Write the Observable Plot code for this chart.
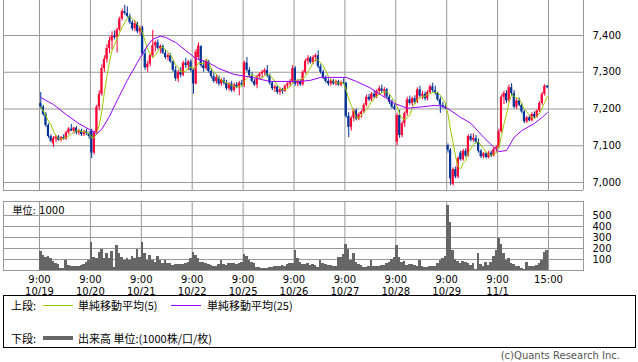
<!DOCTYPE html>
<html><head><meta charset="utf-8">
<script src="https://cdn.jsdelivr.net/npm/d3@7"></script>
<script src="https://cdn.jsdelivr.net/npm/@observablehq/plot@0.6"></script>
<style>
body{margin:0;background:#fff;}
#wrap{position:relative;width:638px;height:362px;overflow:hidden;font-family:"DejaVu Sans","Noto Sans CJK JP",sans-serif;}
#price{position:absolute;left:0;top:0;}
#vol{position:absolute;left:0;top:196px;}
#legend{position:absolute;left:3px;top:295px;width:633px;height:53px;border:1px solid #000;box-sizing:border-box;}
.lt{position:absolute;font-family:"Noto Sans CJK JP",sans-serif;font-size:11px;line-height:14px;color:#000;white-space:nowrap;}
.ll{position:absolute;height:0;}
#copy{position:absolute;right:18px;top:349px;font-size:10px;line-height:14px;color:#555;white-space:nowrap;}
</style></head>
<body>
<div id="wrap">
  <div id="price"></div>
  <div id="vol"></div>
  <div id="legend">
    <span class="lt" style="left:7px;top:2px;">上段:</span>
    <span class="ll" style="left:39px;top:9px;width:30px;border-top:1px solid #99cc00;"></span>
    <span class="lt" style="left:74px;top:2px;">単純移動平均(5)</span>
    <span class="ll" style="left:167px;top:9px;width:30px;border-top:1px solid #9900ff;"></span>
    <span class="lt" style="left:203px;top:2px;">単純移動平均(25)</span>
    <span class="lt" style="left:7px;top:35px;">下段:</span>
    <span class="ll" style="left:39px;top:40px;width:30px;border-top:4px solid #666;"></span>
    <span class="lt" style="left:74px;top:35px;">出来高 単位:(1000株/口/枚)</span>
  </div>
  <div id="copy">(c)Quants Research Inc.</div>
</div>
<script>
// ---- data (one bar per index, 20 bars per trading day) ----
const open = [
7215,7205,7185,7155,7125,7105,7118,7124,7115,7122,7118,7135,7145,7140,7148,7135,7140,7130,7138,7132,
7140,7080,7135,7205,7240,7310,7335,7365,7385,7398,7394,7415,7445,7465,7460,7452,7435,7418,7432,7410,
7420,7350,7312,7322,7345,7372,7380,7365,7370,7352,7340,7345,7328,7305,7282,7300,7292,7325,7318,7328,
7305,7268,7340,7370,7318,7310,7328,7302,7288,7275,7285,7268,7278,7270,7255,7268,7250,7265,7258,7270,
7265,7325,7305,7290,7275,7265,7288,7295,7300,7305,7290,7270,7255,7260,7245,7252,7248,7262,7268,7275,
7310,7268,7275,7266,7300,7330,7338,7326,7340,7345,7315,7300,7285,7275,7268,7276,7268,7274,7265,7272,
7270,7180,7150,7175,7195,7172,7185,7192,7210,7232,7225,7240,7232,7248,7255,7248,7252,7232,7218,7205,
7110,7182,7128,7160,7188,7225,7215,7228,7218,7252,7235,7240,7228,7245,7260,7250,7242,7225,7210,7206,
7100,7088,6995,7035,7015,7080,7062,7085,7072,7125,7115,7120,7110,7085,7070,7078,7068,7080,7072,7090,
7095,7138,7232,7242,7222,7258,7242,7205,7222,7210,7192,7165,7176,7168,7185,7178,7195,7215,7240,7262];
const high = [
7245,7210,7190,7160,7130,7125,7128,7128,7125,7130,7140,7150,7158,7150,7152,7145,7145,7142,7145,7138,
7145,7140,7210,7250,7320,7345,7375,7395,7410,7412,7420,7450,7472,7482,7478,7458,7440,7440,7436,7425,
7425,7362,7330,7350,7414,7385,7388,7375,7374,7360,7352,7350,7332,7315,7305,7312,7330,7338,7332,7334,
7310,7362,7380,7372,7330,7335,7332,7310,7298,7292,7290,7282,7285,7278,7272,7275,7270,7272,7275,7278,
7330,7340,7312,7300,7280,7292,7298,7305,7310,7318,7295,7275,7265,7262,7258,7256,7265,7272,7280,7318,
7315,7280,7280,7305,7335,7345,7342,7345,7350,7358,7322,7305,7290,7282,7280,7280,7278,7278,7276,7282,
7272,7190,7180,7200,7200,7190,7195,7215,7238,7240,7245,7248,7252,7262,7265,7258,7256,7238,7225,7212,
7188,7196,7165,7192,7232,7235,7232,7236,7258,7262,7248,7246,7250,7265,7270,7262,7246,7232,7218,7212,
7105,7092,7040,7042,7070,7085,7090,7092,7130,7132,7132,7128,7118,7090,7082,7082,7085,7086,7095,7100,
7145,7238,7248,7250,7265,7269,7250,7228,7230,7215,7196,7180,7182,7190,7192,7198,7220,7245,7266,7264];
const low = [
7200,7180,7150,7120,7108,7095,7108,7112,7110,7115,7115,7130,7138,7132,7130,7128,7125,7125,7128,7118,
7065,7075,7130,7195,7235,7300,7325,7350,7360,7388,7352,7410,7440,7455,7448,7430,7412,7410,7405,7400,
7345,7305,7300,7315,7338,7355,7360,7350,7348,7335,7330,7325,7300,7275,7272,7285,7288,7310,7305,7300,
7240,7265,7335,7312,7300,7305,7298,7282,7270,7268,7262,7262,7265,7250,7248,7245,7245,7255,7236,7260,
7258,7300,7285,7270,7262,7255,7280,7282,7290,7285,7265,7250,7245,7240,7237,7240,7245,7255,7260,7268,
7262,7260,7262,7262,7295,7320,7322,7320,7328,7310,7295,7280,7270,7262,7262,7265,7262,7262,7260,7266,
7175,7122,7140,7165,7168,7168,7175,7188,7205,7220,7220,7228,7228,7240,7242,7232,7228,7212,7200,7196,
7100,7120,7122,7150,7180,7210,7208,7212,7215,7230,7225,7222,7222,7240,7245,7238,7220,7188,7200,7198,
7080,6992,6990,7010,7010,7058,7058,7068,7070,7110,7110,7105,7080,7065,7065,7064,7064,7068,7070,7080,
7092,7135,7212,7215,7218,7235,7200,7198,7206,7188,7160,7160,7165,7165,7172,7175,7190,7210,7235,7255];
const close = [
7205,7185,7155,7125,7112,7120,7124,7115,7122,7118,7135,7145,7140,7148,7135,7140,7130,7138,7132,7125,
7080,7135,7205,7240,7310,7335,7365,7385,7398,7394,7415,7445,7465,7460,7452,7435,7418,7432,7410,7420,
7350,7312,7322,7345,7372,7380,7365,7370,7352,7340,7345,7328,7305,7282,7300,7292,7325,7318,7328,7305,
7268,7355,7372,7318,7310,7328,7302,7288,7275,7285,7268,7278,7270,7255,7268,7250,7265,7258,7270,7265,
7325,7305,7290,7275,7265,7288,7295,7300,7305,7290,7270,7255,7260,7245,7252,7248,7262,7268,7275,7310,
7268,7275,7266,7300,7330,7338,7326,7340,7345,7315,7300,7285,7275,7268,7276,7268,7274,7265,7272,7270,
7180,7150,7175,7195,7172,7185,7192,7210,7232,7225,7240,7232,7248,7255,7248,7252,7232,7218,7205,7200,
7182,7128,7160,7188,7225,7215,7228,7218,7252,7235,7240,7228,7245,7260,7250,7242,7225,7210,7206,7202,
7088,7010,7035,7015,7065,7062,7085,7072,7125,7115,7120,7110,7085,7070,7078,7068,7080,7072,7090,7095,
7138,7232,7242,7222,7258,7242,7205,7222,7210,7192,7165,7176,7168,7185,7178,7195,7215,7240,7262,7258];
const volume = [
175,135,115,125,110,85,62,50,22,14,90,48,35,33,34,34,48,55,70,95,
258,115,105,165,195,110,150,105,170,25,225,150,120,95,110,90,130,105,195,120,
258,150,90,135,95,76,125,90,68,90,63,60,48,50,55,55,55,60,76,105,
160,135,105,76,70,63,50,48,40,40,55,90,50,48,60,63,60,50,65,76,
143,125,90,76,60,30,28,22,20,22,25,30,32,35,40,45,40,55,62,68,
180,105,76,55,50,60,45,55,48,30,90,60,50,45,42,40,38,115,120,145,
240,195,90,150,75,50,45,30,30,38,90,38,40,38,42,45,60,76,100,120,
225,120,76,82,47,50,53,45,40,90,40,30,28,35,38,40,62,90,110,125,
590,435,185,103,79,60,80,73,60,45,66,8,155,55,33,72,48,70,130,180,
290,240,155,95,110,65,50,40,34,19,12,72,34,40,34,48,62,95,160,185];
// 25-bar moving average (bar index, value)
const ma25Bar = [0,5,10,15,20,22,24,27,30,34,38,42,44,47,49,53,57,61,65,68,70,76,83,90,96,102,106,110,116,120,124,129,134,139,144,150,155,158,160,165,169,174,178,180,183,186,189,194,197,199];
const ma25Value = [7231,7212,7185,7160,7141,7133,7145,7180,7223,7278,7327,7373,7390,7398,7395,7381,7359,7337,7329,7318,7310,7294,7286,7275,7275,7275,7278,7286,7286,7286,7275,7259,7237,7215,7202,7206,7210,7207,7201,7177,7161,7123,7096,7084,7087,7123,7141,7161,7177,7190];
const tickBars = [0,20,40,60,80,100,120,140,160,180,200];
const timeLabels = ["9:00","9:00","9:00","9:00","9:00","9:00","9:00","9:00","9:00","9:00","15:00"];
const dateLabels = ["10/19","10/20","10/21","10/22","10/25","10/26","10/27","10/28","10/29","11/1",""];
const priceTicks = [7000,7100,7200,7300,7400];
const volumeTicks = [100,200,300,400,500];

// ---- build ----
const bars = open.map((o, i) => ({i, o, h: high[i], l: low[i], c: close[i], v: volume[i]}));
const upBars = bars.filter(d => d.c >= d.o);
const dnBars = bars.filter(d => d.c < d.o);
const ma25 = ma25Bar.map((b, k) => ({i: b, v: ma25Value[k]}));
const UP = "#ff0033", DN = "#003399", GRID = "#999";
const xDomain = [-14.145, 213.75];
const font = {fontFamily: '"DejaVu Sans","Noto Sans CJK JP",sans-serif', fontSize: "10px", color: "#000", background: "transparent"};

const price = Plot.plot({
  width: 638, height: 191,
  marginTop: 0, marginBottom: 1, marginLeft: 3, marginRight: 55,
  x: {domain: xDomain, axis: null},
  y: {domain: [6978.2, 7495.2], label: null},
  style: font,
  marks: [
    Plot.gridY(priceTicks, {stroke: GRID, strokeOpacity: 1}),
    Plot.ruleX(tickBars, {stroke: GRID, strokeOpacity: 1}),
    Plot.ruleX(xDomain, {stroke: GRID, strokeOpacity: 1}),
    Plot.ruleY([6978.2], {stroke: GRID, strokeOpacity: 1}),
    Plot.axisY(priceTicks, {anchor: "right", label: null, tickSize: 0, tickPadding: 9, tickFormat: d3.format(","), fontSize: 10}),
    Plot.ruleX(upBars, {x: d => d.i + 0.5, y1: "l", y2: "h", stroke: UP}),
    Plot.ruleX(dnBars, {x: d => d.i + 0.5, y1: "l", y2: "h", stroke: DN}),
    Plot.rect(upBars, {x1: d => d.i + 0.1, x2: d => d.i + 0.95, y1: "o", y2: "c", fill: UP}),
    Plot.rect(dnBars, {x1: d => d.i + 0.1, x2: d => d.i + 0.95, y1: "o", y2: "c", fill: DN}),
    Plot.lineY(bars, Plot.windowY({k: 5, anchor: "end", strict: false}, {x: d => d.i + 0.5, y: "c", stroke: "#99cc00", strokeWidth: 1})),
    Plot.line(ma25, {x: d => d.i + 0.5, y: "v", stroke: "#9900ff", strokeWidth: 1})
  ]
});
document.getElementById("price").appendChild(price);

const vol = Plot.plot({
  width: 638, height: 110,
  marginTop: 5, marginBottom: 36, marginLeft: 3, marginRight: 55,
  x: {domain: xDomain, label: null},
  y: {domain: [0, 627], label: null},
  style: font,
  marks: [
    Plot.gridY(volumeTicks, {stroke: GRID, strokeOpacity: 1}),
    Plot.ruleX(tickBars, {stroke: GRID, strokeOpacity: 1}),
    Plot.rect(bars, {x1: "i", x2: d => d.i + 1, y1: 0, y2: "v", fill: "#666", shapeRendering: "crispEdges"}),
    Plot.frame({stroke: GRID}),
    Plot.axisY(volumeTicks, {anchor: "right", label: null, tickSize: 0, tickPadding: 9, fontSize: 10}),
    Plot.axisX(tickBars, {label: null, tickSize: 0, tickPadding: 5, tickFormat: d => timeLabels[tickBars.indexOf(d)], fontSize: 10}),
    Plot.axisX(tickBars, {label: null, tickSize: 0, tickPadding: 17, tickFormat: d => dateLabels[tickBars.indexOf(d)], fontSize: 10}),
    Plot.text(["単位: 1000"], {frameAnchor: "top-left", dx: 9, dy: 9, textAnchor: "start", lineAnchor: "middle", fontSize: 10})
  ]
});
document.getElementById("vol").appendChild(vol);
</script>
</body></html>
